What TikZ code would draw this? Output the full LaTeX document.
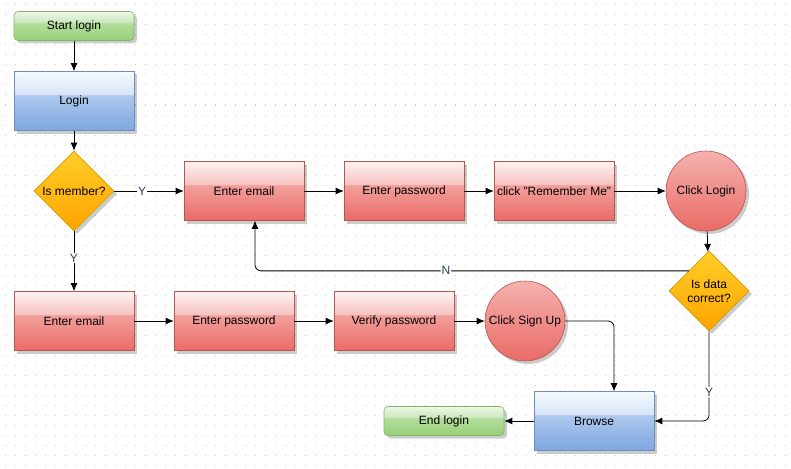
\documentclass[tikz,border=0pt]{standalone}
\usepackage{fontspec}
\setmainfont{Liberation Sans}
\usetikzlibrary{arrows.meta,shapes.geometric,shadows}

\definecolor{redA}{HTML}{EA6B66}
\definecolor{redB}{HTML}{F2A09D}
\definecolor{redC}{HTML}{F7C3C1}
\definecolor{redD}{HTML}{FDF2F2}
\definecolor{redline}{HTML}{B85450}
\definecolor{blueA}{HTML}{7EA6E0}
\definecolor{blueB}{HTML}{AFC9EE}
\definecolor{blueC}{HTML}{D6E4F8}
\definecolor{blueD}{HTML}{F7FAFE}
\definecolor{blueline}{HTML}{6C8EBF}
\definecolor{greenA}{HTML}{97D077}
\definecolor{greenB}{HTML}{B3DD9C}
\definecolor{greenC}{HTML}{C8E7B8}
\definecolor{greenD}{HTML}{EEF8E9}
\definecolor{greenline}{HTML}{82B366}
\definecolor{orangeA}{HTML}{FFA500}
\definecolor{orangeB}{HTML}{FFCD28}
\definecolor{orangeline}{HTML}{D79B00}
\definecolor{labeltext}{RGB}{45,60,85}

\pgfdeclareverticalshading{redglass}{100bp}{color(0bp)=(redA); color(25bp)=(redA); color(55bp)=(redB); color(55.5bp)=(redC); color(75bp)=(redD); color(100bp)=(redD)}
\pgfdeclareverticalshading{blueglass}{100bp}{color(0bp)=(blueA); color(25bp)=(blueA); color(55bp)=(blueB); color(55.5bp)=(blueC); color(75bp)=(blueD); color(100bp)=(blueD)}
\pgfdeclareverticalshading{greenglass}{100bp}{color(0bp)=(greenA); color(25bp)=(greenA); color(55bp)=(greenB); color(55.5bp)=(greenC); color(75bp)=(greenD); color(100bp)=(greenD)}

\begin{document}
\begin{tikzpicture}[x=1pt,y=-1pt,>=Latex,
  shape_base/.style={draw,line width=0.6pt,font=\fontsize{12}{14}\selectfont,inner sep=2pt,
    drop shadow={shadow xshift=3pt,shadow yshift=-3pt,fill=black,opacity=0.2}},
  redbox/.style={shape_base,rectangle,draw=redline,shading=redglass,minimum width=120pt,minimum height=59pt},
  bluebox/.style={shape_base,rectangle,draw=blueline,shading=blueglass,minimum width=120pt,minimum height=59pt},
  endbox/.style={shape_base,rectangle,rounded corners=4pt,draw=greenline,shading=greenglass,minimum width=120pt,minimum height=29pt},
  redcircle/.style={shape_base,circle,draw=redline,top color=redC!80!redA,bottom color=redA,minimum size=80pt},
  decision/.style={shape_base,diamond,aspect=1,draw=orangeline,top color=orangeB,bottom color=orangeA,minimum width=80pt,minimum height=80pt,inner sep=0pt,align=center},
  flow/.style={-{Latex[length=8pt,width=7pt]},line width=0.8pt},
  tag/.style={fill=white,inner sep=1pt,text=labeltext,font=\fontsize{12}{13}\selectfont}]
\useasboundingbox (0,0) rectangle (791,468);
% dotted grid
\foreach \gy in {5,15,...,465}
  \draw[black!20,line width=1pt,dash pattern=on 1pt off 9pt] (4.5,\gy) -- (791,\gy);

% nodes
\node[endbox] (start_login) at (74,26) {Start login};
\node[bluebox] (login) at (74,101) {Login};
\node[decision] (is_member) at (74,191) {Is member?};
\node[redbox] (email_in) at (244,191) {Enter email};
\node[redbox] (pass_in) at (404,191) {Enter password};
\node[redbox] (remember) at (554,191) {click "Remember Me"};
\node[redcircle] (click_login) at (706,191) {Click Login};
\node[decision] (is_correct) at (709,291) {Is data\\correct?};
\node[redbox] (email_up) at (74,321) {Enter email};
\node[redbox] (pass_up) at (234,321) {Enter password};
\node[redbox] (verify) at (394,321) {Verify password};
\node[redcircle] (click_signup) at (525,321) {Click Sign Up};
\node[bluebox] (browse) at (594,421) {Browse};
\node[endbox] (end_login) at (444,421) {End login};

% connectors
\draw[flow] (start_login) -- (login);
\draw[flow] (login) -- (is_member);
\draw[flow] (is_member) -- node[tag,pos=0.4]{Y} (email_in);
\draw[flow] (is_member) -- node[tag,pos=0.45]{Y} (email_up);
\draw[flow] (email_in) -- (pass_in);
\draw[flow] (pass_in) -- (remember);
\draw[flow] (remember) -- (click_login);
\draw[flow] (click_login) -- (is_correct);
\draw[flow,rounded corners=6pt] (is_correct.north west) -| node[tag,pos=0.28]{N} ([xshift=11pt]email_in.south);
\draw[flow] (email_up) -- (pass_up);
\draw[flow] (pass_up) -- (verify);
\draw[flow] (verify) -- (click_signup);
\draw[flow,rounded corners=6pt] (click_signup) -| ([xshift=20pt]browse.north);
\draw[flow,rounded corners=6pt] (is_correct.south) |- node[tag,pos=0.34]{Y} (browse.east);
\draw[flow] (browse) -- (end_login);
\end{tikzpicture}
\end{document}
